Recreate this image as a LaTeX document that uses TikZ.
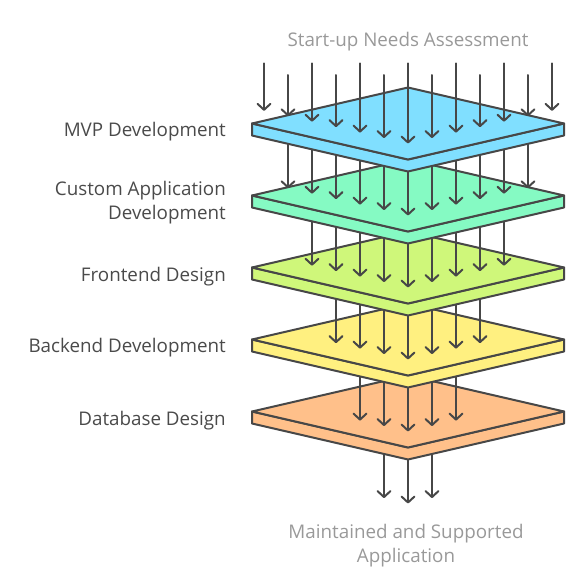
\documentclass[tikz,border=0pt]{standalone}
\usepackage{fontspec}
\setmainfont{Open Sans}
\usetikzlibrary{arrows.meta}
\definecolor{lineC}{HTML}{474747}
\definecolor{labelC}{HTML}{4A4A4A}
\definecolor{titleC}{HTML}{999999}
\definecolor{plateA}{HTML}{80DFFF}
\definecolor{plateB}{HTML}{85FAC3}
\definecolor{plateC}{HTML}{CFF77A}
\definecolor{plateD}{HTML}{FFF080}
\definecolor{plateE}{HTML}{FFC08A}
\tikzset{
  flowarrow/.style={draw=lineC, line width=2pt, line cap=round,
    -{Straight Barb[length=6pt,width=13pt,line width=2pt,round]}},
  plateline/.style={draw=lineC, line width=2pt, line join=round},
  layerlabel/.style={anchor=base east, inner sep=0pt, text=labelC, font=\fontsize{18.8}{24}\selectfont, align=right},
  endlabel/.style={inner sep=0pt, text=titleC, font=\fontsize{18.8}{24}\selectfont, align=center},
}
\newcommand{\plate}[2]{% center y, colour
  \path[plateline, fill=#2] (252,#1) -- (252,#1+12) -- (408,#1+48) -- (564,#1+12) -- (564,#1) -- (408,#1+36) -- cycle;
  \path[plateline, fill=#2] (252,#1) -- (408,#1-36) -- (564,#1) -- (408,#1+36) -- cycle;
}
% arrows: number n, start y (for all), top-face centre y of target
\newcommand{\arrowrow}[3]{%
  \pgfmathtruncatemacro{\nlast}{#1-1}
  \foreach \i in {0,...,\nlast}{
    \pgfmathsetmacro{\ax}{408-12*(#1-1)+24*\i}
    \pgfmathsetmacro{\ay}{#3+20-0.227*abs(\ax-408)}
    \coordinate (s\i) at (\ax,#2);
    \coordinate (t\i) at (\ax,\ay);
    \draw[flowarrow] (s\i) -- (t\i);
  }
}
\begin{document}
\begin{tikzpicture}[x=1pt,y=-1pt]
\useasboundingbox (0,0) rectangle (588,570);
% bottom outgoing arrows
\arrowrow{3}{411.5}{483.5}
\plate{411.5}{plateE}
\arrowrow{5}{339.5}{411.5}
\plate{339.5}{plateD}
\arrowrow{7}{267.5}{339.5}
\plate{267.5}{plateC}
\arrowrow{9}{195.5}{267.5}
\plate{195.5}{plateB}
\arrowrow{11}{123.5}{195.5}
\plate{123.5}{plateA}
% top incoming arrows (alternating start heights)
\foreach \i in {0,...,12}{
  \pgfmathsetmacro{\ax}{264+24*\i}
  \pgfmathsetmacro{\ay}{143.5-0.227*abs(\ax-408)}
  \pgfmathsetmacro{\sy}{isodd(\i) ? 75 : 63.3}
  \coordinate (in\i) at (\ax,\sy);
  \coordinate (on\i) at (\ax,\ay);
  \draw[flowarrow] (in\i) -- (on\i);
}
% labels
\node[endlabel, anchor=base] (start) at (408,46) {Start-up Needs Assessment};
\node[endlabel] (finish) at (406,545.5) {Maintained and Supported\\Application};
\node[layerlabel] (l1) at (226,136.7) {MVP Development};
\node[layerlabel, anchor=east] (l2) at (226,203) {Custom Application\\Development};
\node[layerlabel] (l3) at (226,281) {Frontend Design};
\node[layerlabel] (l4) at (226,352.5) {Backend Development};
\node[layerlabel] (l5) at (226,425) {Database Design};
\end{tikzpicture}
\end{document}
